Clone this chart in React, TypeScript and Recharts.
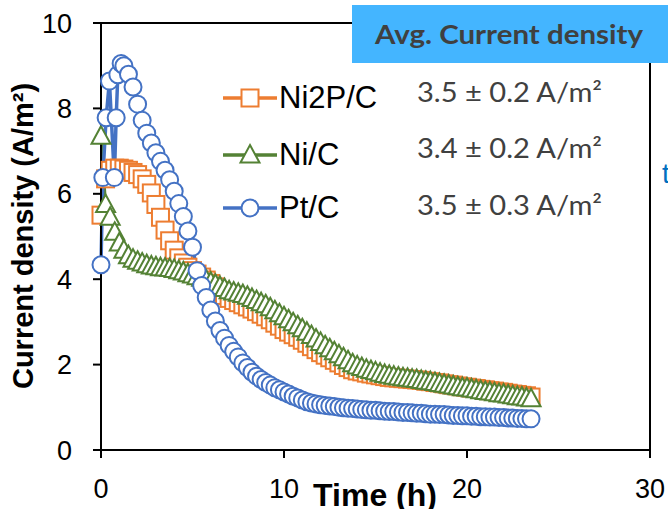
import { LineChart, Line, XAxis, YAxis, Legend, ReferenceLine } from 'recharts'

// time (h) shared by Ni2P/C and Ni/C
const TIME = [
  0, 0.25, 0.5, 0.75, 1, 1.25, 1.5, 1.75, 2, 2.25, 2.5, 2.75, 3, 3.25, 3.5, 3.75,
  4, 4.25, 4.5, 4.75, 5, 5.25, 5.5, 5.75, 6, 6.25, 6.5, 6.75, 7, 7.25, 7.5, 7.75,
  8, 8.25, 8.5, 8.75, 9, 9.25, 9.5, 9.75, 10, 10.25, 10.5, 10.75, 11, 11.25, 11.5, 11.75,
  12, 12.25, 12.5, 12.75, 13, 13.25, 13.5, 13.75, 14, 14.25, 14.5, 14.75, 15, 15.25, 15.5, 15.75,
  16, 16.25, 16.5, 16.75, 17, 17.25, 17.5, 17.75, 18, 18.25, 18.5, 18.75, 19, 19.25, 19.5, 19.75,
  20, 20.25, 20.5, 20.75, 21, 21.25, 21.5, 21.75, 22, 22.25, 22.5, 22.75, 23, 23.25, 23.5
]

const NI2P_C = [
  5.5, 6.35, 6.55, 6.6, 6.6, 6.58, 6.55, 6.5, 6.45, 6.35, 6.22, 6.02, 5.75, 5.45, 5.15, 4.9,
  4.68, 4.5, 4.38, 4.28, 4.2, 4.12, 4.05, 3.98, 3.9, 3.82, 3.73, 3.62, 3.55, 3.5, 3.45, 3.4,
  3.35, 3.3, 3.24, 3.18, 3.12, 3.05, 2.97, 2.9, 2.82, 2.76, 2.7, 2.64, 2.57, 2.5, 2.42, 2.35,
  2.28, 2.22, 2.16, 2.1, 2.04, 1.98, 1.93, 1.88, 1.85, 1.83, 1.8, 1.78, 1.76, 1.74, 1.72, 1.7,
  1.69, 1.68, 1.67, 1.66, 1.65, 1.64, 1.63, 1.61, 1.6, 1.58, 1.57, 1.55, 1.53, 1.52, 1.5, 1.48,
  1.47, 1.45, 1.44, 1.42, 1.41, 1.39, 1.38, 1.36, 1.35, 1.33, 1.31, 1.3, 1.28, 1.27, 1.24
]

const NI_C = [
  7.35, 5.75, 5.45, 5.1, 4.85, 4.68, 4.55, 4.47, 4.42, 4.38, 4.34, 4.31, 4.29, 4.27, 4.26, 4.25,
  4.23, 4.2, 4.17, 4.13, 4.1, 4.06, 4.02, 3.98, 3.93, 3.88, 3.83, 3.78, 3.73, 3.7, 3.67, 3.64,
  3.6, 3.55, 3.5, 3.45, 3.4, 3.33, 3.26, 3.19, 3.12, 3.05, 2.98, 2.91, 2.84, 2.76, 2.68, 2.6,
  2.52, 2.44, 2.37, 2.3, 2.23, 2.16, 2.09, 2.02, 1.97, 1.93, 1.89, 1.86, 1.83, 1.8, 1.77, 1.75,
  1.73, 1.71, 1.69, 1.68, 1.66, 1.65, 1.63, 1.61, 1.6, 1.58, 1.56, 1.54, 1.52, 1.5, 1.48, 1.46,
  1.45, 1.43, 1.41, 1.39, 1.37, 1.36, 1.34, 1.32, 1.31, 1.29, 1.27, 1.25, 1.24, 1.22, 1.2
]

// Pt/C has its own, irregular start
const PT_TIME = [
  0, 0.1, 0.28, 0.46, 0.73, 0.83, 0.92, 1.1,
  1.25, 1.5, 1.75, 2, 2.25, 2.5, 2.75, 3, 3.25, 3.5, 3.75,
  4, 4.25, 4.5, 4.75, 5, 5.25, 5.5, 5.75, 6, 6.25, 6.5, 6.75, 7, 7.25, 7.5, 7.75,
  8, 8.25, 8.5, 8.75, 9, 9.25, 9.5, 9.75, 10, 10.25, 10.5, 10.75, 11, 11.25, 11.5, 11.75,
  12, 12.25, 12.5, 12.75, 13, 13.25, 13.5, 13.75, 14, 14.25, 14.5, 14.75, 15, 15.25, 15.5, 15.75,
  16, 16.25, 16.5, 16.75, 17, 17.25, 17.5, 17.75, 18, 18.25, 18.5, 18.75, 19, 19.25, 19.5, 19.75,
  20, 20.25, 20.5, 20.75, 21, 21.25, 21.5, 21.75, 22, 22.25, 22.5, 22.75, 23, 23.25, 23.5
]

const PT_C = [
  4.34, 6.38, 7.78, 8.64, 6.38, 7.78, 8.79, 9.05,
  9.0, 8.8, 8.5, 8.1, 7.72, 7.42, 7.19, 6.96, 6.76, 6.55, 6.33,
  6.06, 5.77, 5.47, 5.13, 4.75, 4.2, 3.85, 3.57, 3.28, 3.02, 2.8, 2.62, 2.45, 2.31, 2.18, 2.04,
  1.93, 1.82, 1.73, 1.65, 1.58, 1.52, 1.46, 1.41, 1.36, 1.31, 1.26, 1.22, 1.17, 1.13, 1.1, 1.08,
  1.06, 1.04, 1.03, 1.02, 1.0, 0.99, 0.98, 0.97, 0.96, 0.95, 0.94, 0.93, 0.93, 0.92, 0.91, 0.9,
  0.9, 0.89, 0.88, 0.88, 0.87, 0.86, 0.86, 0.85, 0.84, 0.84, 0.83, 0.83, 0.82, 0.81, 0.81, 0.8,
  0.8, 0.79, 0.79, 0.78, 0.78, 0.77, 0.77, 0.76, 0.76, 0.75, 0.75, 0.74, 0.74, 0.73, 0.73
]

const SERIES_NAMES = ['Ni2P/C', 'Ni/C', 'Pt/C']
const AVG_LABELS = ['3.5 ± 0.2 A/m²', '3.4 ± 0.2 A/m²', '3.5 ± 0.3 A/m²']
const X_TICKS = [0, 10, 20, 30]
const Y_TICKS = [0, 2, 4, 6, 8, 10]

const ORANGE = '#ED7D31'
const GREEN = '#548235'
const BLUE = '#4472C4'
const COLORS = [ORANGE, GREEN, BLUE]

const toPoints = (t: number[], v: number[]) => t.map((x, i) => ({ t: x, v: v[i] }))

const ni2pData = toPoints(TIME, NI2P_C)
const niData = toPoints(TIME, NI_C)
const ptData = toPoints(PT_TIME, PT_C)

const ARIAL = '"Liberation Sans", Arial, sans-serif'
const CALIBRI = 'Lato, "Open Sans", sans-serif'

function Marker({ kind, cx, cy, color }: { kind: number; cx: number; cy: number; color: string }) {
  if (kind === 0)
    return <rect x={cx - 8.5} y={cy - 8.5} width={17} height={17} fill="#fff" stroke={color} strokeWidth={2} />
  if (kind === 1)
    return (
      <polygon
        points={`${cx},${cy - 10} ${cx + 9.5},${cy + 7.5} ${cx - 9.5},${cy + 7.5}`}
        fill="#fff"
        stroke={color}
        strokeWidth={2}
      />
    )
  return <circle cx={cx} cy={cy} r={8.5} fill="#fff" stroke={color} strokeWidth={2} />
}

const makeDot = (kind: number) => (p: any) => (
  <Marker key={`m${kind}-${p.index}`} kind={kind} cx={p.cx} cy={p.cy} color={COLORS[kind]} />
)

const renderLegend = () => (
  <svg width={210} height={150} style={{ overflow: 'visible' }}>
    {SERIES_NAMES.map((name, i) => {
      const y = [23, 80, 133][i]
      return (
        <g key={name}>
          <line x1={8} x2={62} y1={y} y2={y} stroke={COLORS[i]} strokeWidth={3.5} />
          <Marker kind={i} cx={35} cy={y} color={COLORS[i]} />
          <text x={64} y={y + 10} fontFamily={ARIAL} fontSize={31} fill="#000">
            {name}
          </text>
        </g>
      )
    })}
  </svg>
)

const App = () => {
  return (
    <div style={{ position: 'absolute', left: 0, top: 0, width: 668, height: 509, background: '#fff' }}>
      <LineChart width={668} height={509} margin={{ top: 23, right: 18, bottom: 0, left: 0 }}>
        <XAxis
          type="number"
          dataKey="t"
          domain={[0, 30]}
          ticks={X_TICKS}
          height={59}
          tickSize={8}
          tickMargin={21}
          axisLine={{ stroke: '#000', strokeWidth: 2 }}
          tickLine={{ stroke: '#000', strokeWidth: 2 }}
          tick={{ fontSize: 27, fill: '#000', fontFamily: ARIAL }}
          allowDuplicatedCategory={false}
        />
        <YAxis
          type="number"
          domain={[0, 10]}
          ticks={Y_TICKS}
          width={101}
          tickSize={8}
          tickMargin={21}
          axisLine={{ stroke: '#000', strokeWidth: 2 }}
          tickLine={{ stroke: '#000', strokeWidth: 2 }}
          tick={{ fontSize: 27, fill: '#000', fontFamily: ARIAL }}
        />
        <ReferenceLine y={10} stroke="#000" strokeWidth={2} />
        <ReferenceLine x={30} stroke="#000" strokeWidth={2} />
        <Legend
          layout="vertical"
          align="center"
          verticalAlign="middle"
          content={renderLegend}
          wrapperStyle={{ left: 215, top: 75, width: 210, height: 150 }}
        />
        <Line
          name={SERIES_NAMES[0]}
          data={ni2pData}
          dataKey="v"
          type="linear"
          stroke={ORANGE}
          strokeWidth={3}
          dot={makeDot(0)}
          isAnimationActive={false}
        />
        <Line
          name={SERIES_NAMES[1]}
          data={niData}
          dataKey="v"
          type="linear"
          stroke={GREEN}
          strokeWidth={3}
          dot={makeDot(1)}
          isAnimationActive={false}
        />
        <Line
          name={SERIES_NAMES[2]}
          data={ptData}
          dataKey="v"
          type="linear"
          stroke={BLUE}
          strokeWidth={3.5}
          dot={makeDot(2)}
          isAnimationActive={false}
        />
      </LineChart>

      <svg
        width={668}
        height={509}
        style={{ position: 'absolute', left: 0, top: 0, pointerEvents: 'none' }}
      >
        <rect x={352} y={5} width={316} height={58} fill="#44B5FF" />
        <text x={375} y={44} fontFamily={CALIBRI} fontWeight="bold" fontSize={26} fill="#404040" textLength={268} lengthAdjust="spacingAndGlyphs">
          Avg. Current density
        </text>
        {AVG_LABELS.map((s, i) => (
          <text key={s + i} x={417} y={[102, 158, 215][i]} fontFamily={CALIBRI} fontSize={26} fill="#404040" textLength={185} lengthAdjust="spacingAndGlyphs">
            {s}
          </text>
        ))}
        <text x={662} y={183} fontFamily={ARIAL} fontSize={28} fill="#0070C0">
          t
        </text>
        <text
          transform="rotate(-90)"
          x={-236}
          y={33}
          textAnchor="middle"
          fontFamily={ARIAL}
          fontWeight="bold"
          fontSize={29}
          fill="#000"
        >
          Current density (A/m²)
        </text>
        <text x={375} y={506} textAnchor="middle" fontFamily={ARIAL} fontWeight="bold" fontSize={32} fill="#000">
          Time (h)
        </text>
      </svg>
    </div>
  )
}

export default App
